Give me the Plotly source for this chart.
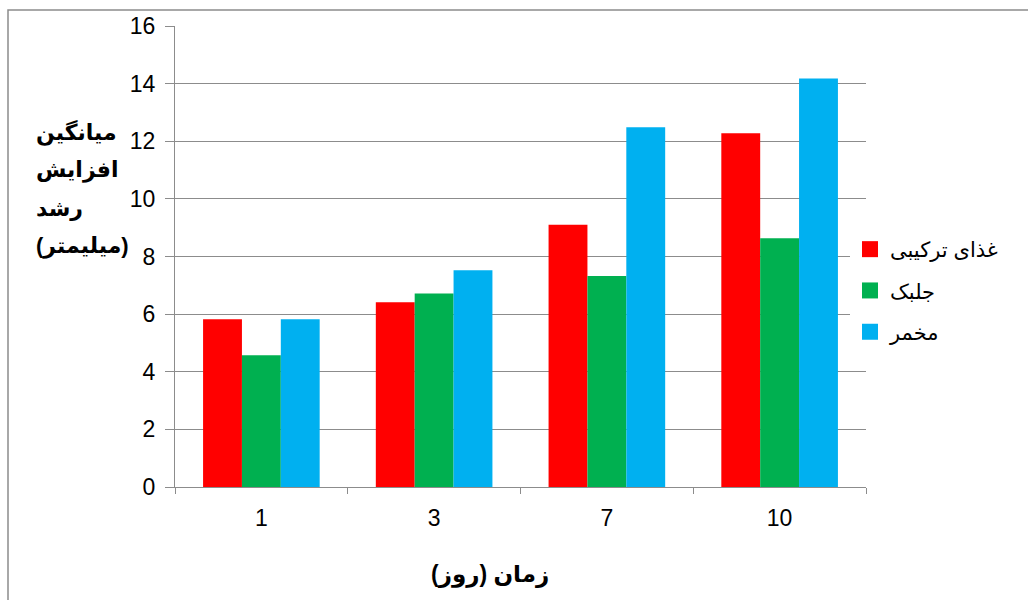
import plotly.graph_objects as go

# Mean growth increase (mm) by day, for three diets
days = ["1", "3", "7", "10"]
series_names = ["غذای ترکیبی", "جلبک", "مخمر"]
mixed_food = [5.82, 6.41, 9.10, 12.28]
algae = [4.57, 6.72, 7.32, 8.63]
yeast = [5.82, 7.52, 12.49, 14.18]
colors = ["#FF0000", "#00B050", "#00B0F0"]

y_title_lines = ["میانگین", "افزایش", "رشد", "(میلیمتر)"]
x_title = "زمان (روز)"

W, H = 1028, 600
L, R, T, B = 175, 866, 26, 487  # plot area in pixels


def px_x(x):
    return (x - L) / (R - L)


def px_y(y):
    return (B - y) / (B - T)


font_family = "Liberation Sans, Arial, DejaVu Sans, sans-serif"
grid_col = "#8C8C8C"

fig = go.Figure()
for i, (name, vals) in enumerate(zip(series_names, [mixed_food, algae, yeast])):
    fig.add_trace(go.Bar(
        x=days, y=vals, name=name, marker=dict(color=colors[i], line=dict(width=0)),
        legendgroup=f"g{i}", showlegend=False,
    ))
# Legend entries with larger square swatches
for i, name in enumerate(series_names):
    fig.add_trace(go.Scatter(
        x=[None], y=[None], mode="markers", name=name, legendgroup=f"g{i}",
        marker=dict(symbol="square", size=16, color=colors[i], line=dict(width=0)),
        hoverinfo="skip",
    ))

fig.update_layout(
    width=W, height=H,
    margin=dict(l=L, r=W - R, t=T, b=H - B),
    paper_bgcolor="white", plot_bgcolor="white",
    barmode="group", bargap=0.325, bargroupgap=0,
    font=dict(family=font_family, color="#000000"),
    showlegend=True,
    legend=dict(
        x=px_x(850), y=px_y(229), xanchor="left", yanchor="top",
        bgcolor="white", borderwidth=0,
        font=dict(size=21, family=font_family, color="#000000"),
        traceorder="grouped", tracegroupgap=11,
    ),
)

fig.update_xaxes(
    type="category", showgrid=False,
    showline=True, linecolor=grid_col, linewidth=1,
    ticks="outside", tickson="boundaries", ticklen=6, tickcolor=grid_col,
    tickfont=dict(size=23, family=font_family, color="#000000"),
    ticklabelstandoff=10,
)
fig.update_yaxes(
    range=[0, 16], dtick=2, tick0=0,
    showgrid=True, gridcolor=grid_col, gridwidth=1,
    showline=True, linecolor=grid_col, linewidth=1,
    zeroline=False,
    ticks="outside", ticklen=9, tickcolor=grid_col,
    tickfont=dict(size=23, family=font_family, color="#000000"),
    ticklabelstandoff=5,
)

# Multi-line vertical axis title, placed left of the tick labels
for k, line in enumerate(y_title_lines):
    fig.add_annotation(
        text=f"<b>{line}</b>", xref="paper", yref="paper",
        x=px_x(34), y=px_y(132 + 38 * k), xanchor="left", yanchor="middle",
        showarrow=False, font=dict(size=22, family=font_family, color="#000000"),
    )

fig.add_annotation(
    text=f"<b>{x_title}</b>", xref="paper", yref="paper",
    x=px_x(490), y=px_y(574), xanchor="center", yanchor="middle",
    showarrow=False, font=dict(size=23, family=font_family, color="#000000"),
)

# Chart frame (runs off the right and bottom edges)
fig.add_shape(type="rect", xref="paper", yref="paper",
              x0=px_x(8), y0=px_y(640), x1=px_x(1060), y1=px_y(10),
              line=dict(color="#8C8C8C", width=1.5), fillcolor="rgba(0,0,0,0)", layer="below")

fig.write_html("out.html")
